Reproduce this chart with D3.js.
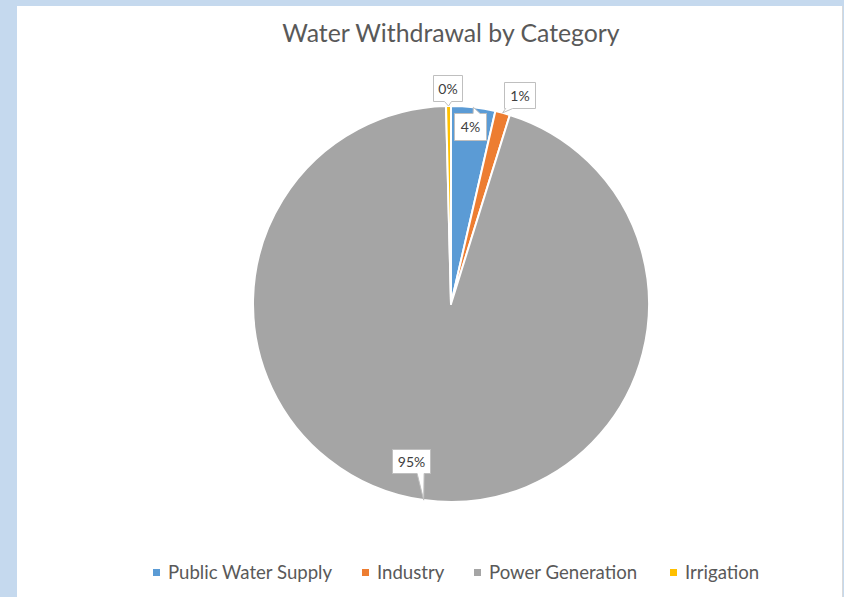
<!DOCTYPE html>
<html>
<head>
<meta charset="utf-8">
<script src="https://cdn.jsdelivr.net/npm/d3@7"></script>
<style>
  body { margin: 0; background: #c5d9ee; }
  svg { display: block; }
</style>
</head>
<body>
<div class="pieChart"></div>
<script>
// data
const categories = ["Public Water Supply", "Industry", "Power Generation", "Irrigation"];
const values = [3.6, 1.2, 94.8, 0.4];
const colors = ["#5B9BD5", "#ED7D31", "#A5A5A5", "#FFC000"];

const W = 844, H = 597;
const cx = 451, cy = 304, r = 198;
const font = "Lato, 'Open Sans', sans-serif";

const svg = d3.select(".pieChart")
  .append("svg")
  .attr("width", W)
  .attr("height", H);

// chart area (white panel over the blue slide background)
svg.append("rect")
  .attr("x", 17).attr("y", 6)
  .attr("width", 825).attr("height", H)
  .attr("fill", "#fff");
svg.append("line")
  .attr("x1", 842.5).attr("x2", 842.5).attr("y1", 6).attr("y2", H)
  .attr("stroke", "#d9d9d9");

// title
svg.append("text")
  .attr("x", cx).attr("y", 42)
  .attr("text-anchor", "middle")
  .attr("font-family", font)
  .attr("font-size", "24.8px")
  .attr("fill", "#595959")
  .text("Water Withdrawal by Category");

const data = categories.map((c, i) => ({ name: c, value: values[i], color: colors[i] }));
const total = d3.sum(values);

const pie = d3.pie().sort(null).value(d => d.value);
const arcs = pie(data);
const arc = d3.arc().innerRadius(0).outerRadius(r);
const edge = d3.arc().innerRadius(r).outerRadius(r);

const g = svg.append("g").attr("transform", `translate(${cx},${cy})`);

g.selectAll("path.slice")
  .data(arcs)
  .join("path")
  .attr("class", "slice")
  .attr("d", arc)
  .attr("fill", d => d.data.color)
  .attr("stroke", "#fff")
  .attr("stroke-width", 2)
  .attr("stroke-linejoin", "round");

// callout layout: box centre offset from the slice's edge point, size, pointer side
const callouts = {
  "Public Water Supply": { dx: -3, dy: 19, w: 32, h: 27, side: "top", pos: 0.69 },
  "Industry": { dx: 17, dy: -18, w: 31, h: 26, side: "bottom", pos: 0.15 },
  "Power Generation": { dx: -13, dy: -39, w: 38, h: 24, side: "bottom", pos: 0.74 },
  "Irrigation": { dx: -1, dy: -18, w: 29, h: 26, side: "bottom", pos: 0.5 }
};

function calloutPath(x0, y0, w, h, ax, ay, side, pos) {
  const x1 = x0 + w, y1 = y0 + h, bw = 7;
  const bx = x0 + w * pos;
  if (side === "top") {
    return `M${x0},${y0}L${bx - bw / 2},${y0}L${ax},${ay}L${bx + bw / 2},${y0}L${x1},${y0}L${x1},${y1}L${x0},${y1}Z`;
  }
  return `M${x0},${y0}L${x1},${y0}L${x1},${y1}L${bx + bw / 2},${y1}L${ax},${ay}L${bx - bw / 2},${y1}L${x0},${y1}Z`;
}

const labels = g.selectAll("g.callout")
  .data(arcs)
  .join("g")
  .attr("class", "callout");

labels.each(function (d) {
  const c = callouts[d.data.name];
  const [ax, ay] = edge.centroid(d);
  const x0 = Math.round(ax + c.dx - c.w / 2) + 0.5;
  const y0 = Math.round(ay + c.dy - c.h / 2) + 0.5;
  const sel = d3.select(this);
  sel.append("path")
    .attr("d", calloutPath(x0, y0, c.w, c.h, ax, ay, c.side, c.pos))
    .attr("fill", "#fff")
    .attr("stroke", "#bfbfbf")
    .attr("stroke-width", 1);
  sel.append("text")
    .attr("x", x0 + c.w / 2)
    .attr("y", y0 + c.h / 2 + 5)
    .attr("text-anchor", "middle")
    .attr("font-family", font)
    .attr("font-size", "14px")
    .attr("fill", "#404040")
    .text(Math.round(d.data.value / total * 100) + "%");
});

// legend
const legendX = [153, 362, 474, 670];
const legend = svg.append("g").attr("class", "legend");
const items = legend.selectAll("g")
  .data(data)
  .join("g")
  .attr("transform", (d, i) => `translate(${legendX[i]},569)`);

items.append("rect")
  .attr("x", 0).attr("y", 0)
  .attr("width", 7).attr("height", 7)
  .attr("fill", d => d.color);

items.append("text")
  .attr("x", 15)
  .attr("y", 10)
  .attr("font-family", font)
  .attr("font-size", "18.6px")
  .attr("fill", "#595959")
  .text(d => d.name);
</script>
</body>
</html>
